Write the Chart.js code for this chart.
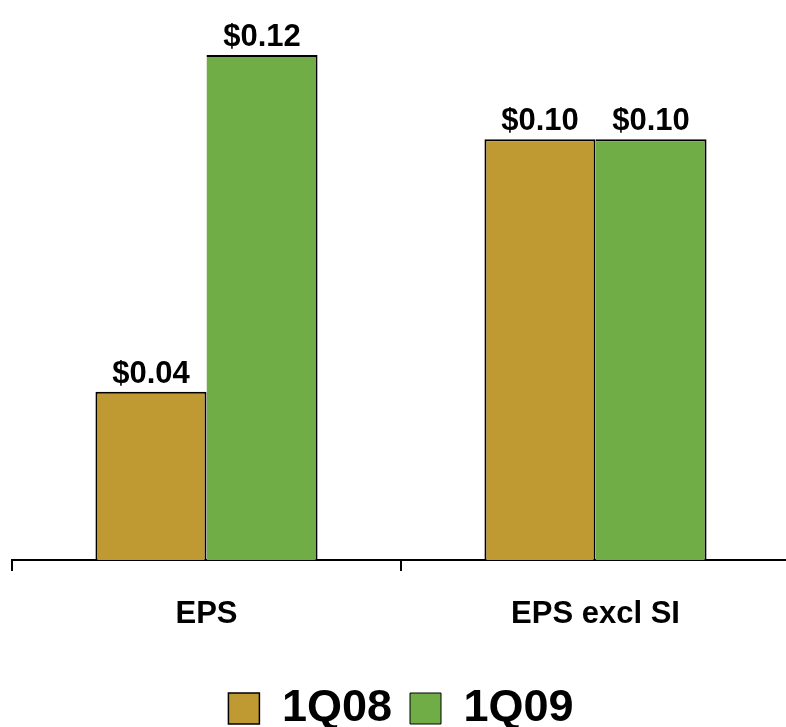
<!DOCTYPE html>
<html>
<head>
<meta charset="utf-8">
<script src="https://cdn.jsdelivr.net/npm/chart.js@4/dist/chart.umd.min.js"></script>
<style>
  html, body { margin: 0; padding: 0; overflow: hidden; background: #fff; }
  #wrap { width: 792px; height: 727px; position: relative; }
</style>
</head>
<body>
<div id="wrap"><canvas id="eps"></canvas></div>
<script>
// Earnings per share, first quarter 2008 vs first quarter 2009
const categories = ['EPS', 'EPS excl SI'];
const seriesNames = ['1Q08', '1Q09'];
const eps1Q08 = [0.04, 0.10];
const eps1Q09 = [0.12, 0.10];

const FONT = '"Liberation Sans", Arial, Helvetica, sans-serif';

// Writes "$0.00" above every bar
const valueLabels = {
  id: 'valueLabels',
  afterDatasetsDraw(chart) {
    const ctx = chart.ctx;
    ctx.save();
    ctx.font = 'bold 31px ' + FONT;
    ctx.fillStyle = '#000';
    ctx.textAlign = 'center';
    ctx.textBaseline = 'alphabetic';
    chart.data.datasets.forEach((ds, i) => {
      chart.getDatasetMeta(i).data.forEach((bar, j) => {
        ctx.fillText('$' + ds.data[j].toFixed(2), bar.x, bar.y - 9);
      });
    });
    ctx.restore();
  }
};

new Chart(document.getElementById('eps'), {
  type: 'bar',
  data: {
    labels: categories,
    datasets: [
      { label: seriesNames[0], data: eps1Q08, backgroundColor: '#BF9A33', borderColor: '#000',
        borderWidth: { top: 2, left: 2, right: 2, bottom: 0 } },
      { label: seriesNames[1], data: eps1Q09, backgroundColor: '#70AD47', borderColor: '#000',
        borderWidth: { top: 2, left: 0, right: 2, bottom: 0 } }
    ]
  },
  options: {
    responsive: true,
    maintainAspectRatio: false,
    animation: false,
    layout: { padding: { top: 13, left: 12, right: 2, bottom: -14 } },
    datasets: { bar: { categoryPercentage: 0.571, barPercentage: 1.0 } },
    scales: {
      x: {
        afterFit(scale) { scale.height = 108; },
        grid: { drawOnChartArea: false, drawTicks: true, tickLength: 11, color: '#000', lineWidth: 2 },
        border: { display: true, color: '#000', width: 2 },
        ticks: { color: '#000', padding: 25, font: { family: FONT, size: 31, weight: 'bold' } }
      },
      y: { display: false, min: 0, max: 0.13 }
    },
    plugins: {
      legend: {
        position: 'bottom',
        labels: {
          color: '#000',
          boxWidth: 31,
          boxHeight: 31,
          padding: 18,
          font: { family: FONT, size: 45, weight: 'bold' }
        }
      },
      tooltip: { enabled: false }
    }
  },
  plugins: [valueLabels]
});
</script>
</body>
</html>
